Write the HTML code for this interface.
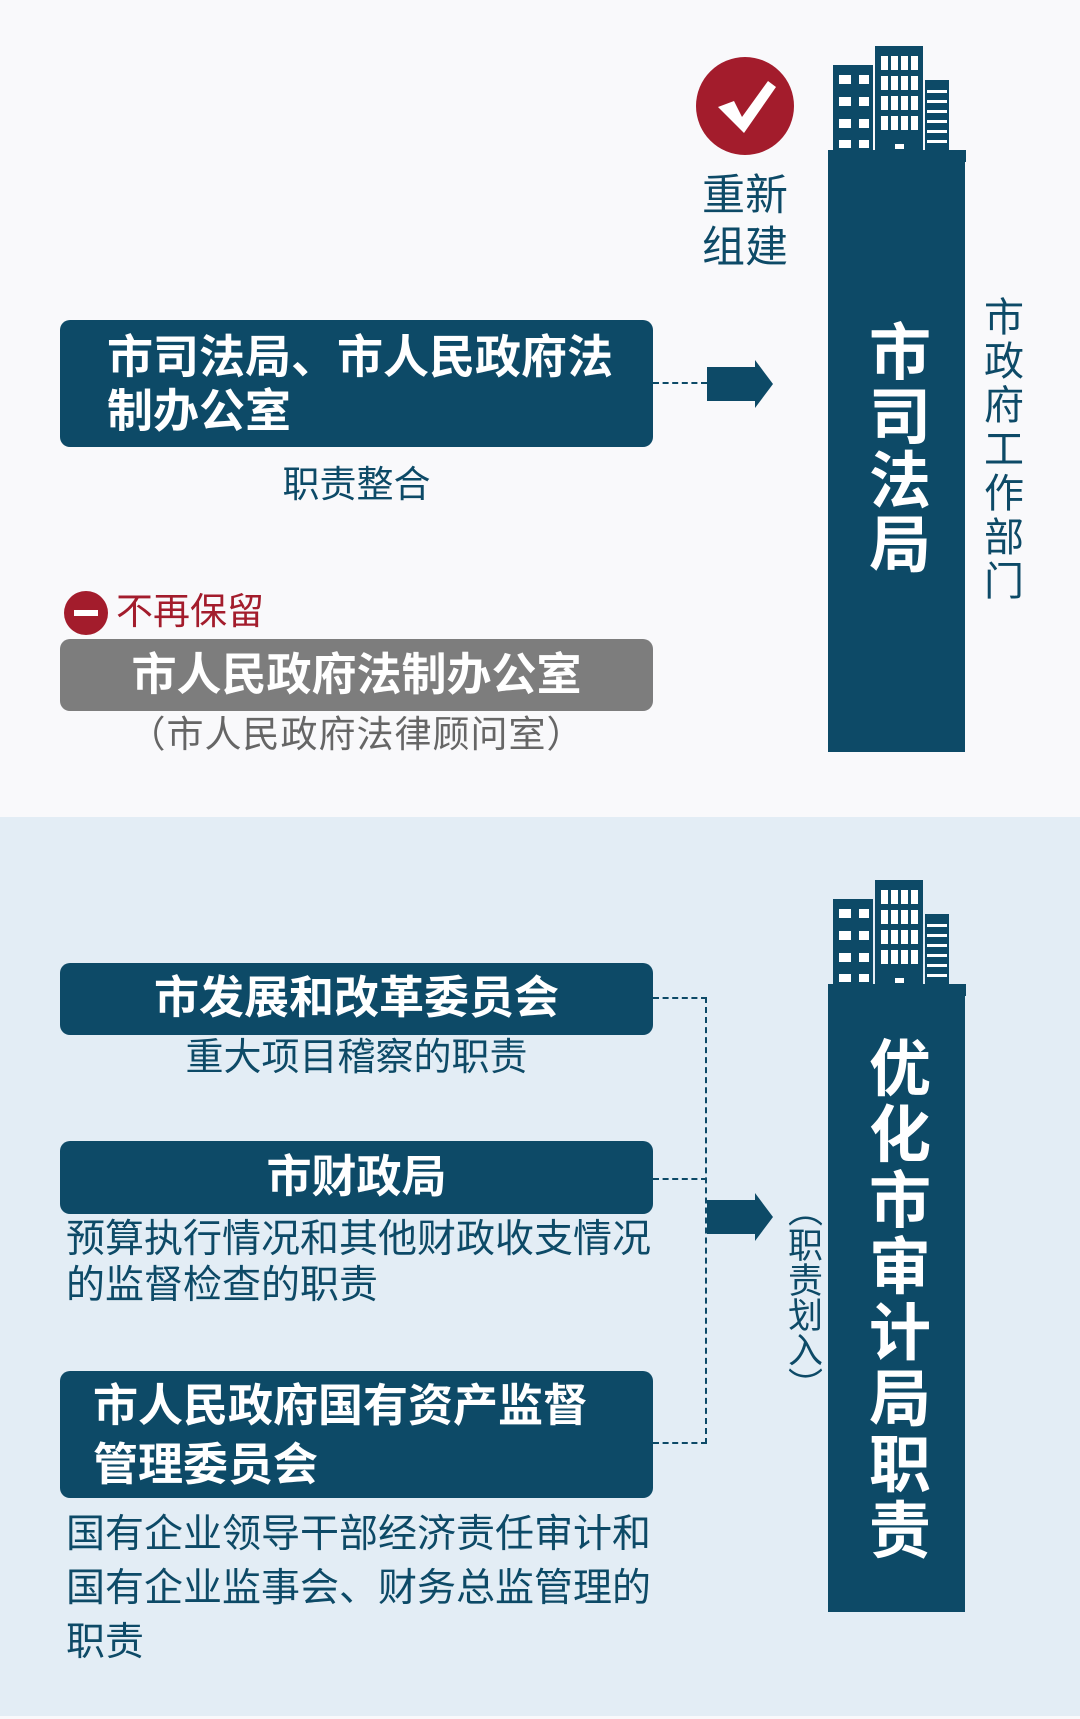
<!DOCTYPE html>
<html><head><meta charset="utf-8"><style>
*{margin:0;padding:0;box-sizing:border-box}
body{width:1080px;height:1719px;position:relative;overflow:hidden;background:#f9f9fb;font-family:"Liberation Sans","Noto Sans CJK SC",sans-serif}
.a{position:absolute}
.box{position:absolute;left:60px;width:593px;background:#0d4a67;border-radius:10px;color:#fff;font-weight:bold;font-size:45px}
.c{text-align:center;white-space:nowrap}
.t{color:#0d4a67;font-size:38px;white-space:nowrap}
.v{position:absolute;writing-mode:vertical-rl;text-orientation:upright;white-space:nowrap}
.dash{position:absolute;border-color:#0d4a67;border-style:dashed;border-width:0}
</style></head><body>
<div class="a" style="left:0;top:817px;width:1080px;height:899px;background:#e3edf5"></div>

<svg class="a" style="left:826px;top:44px" width="142" height="118" viewBox="0 0 142 118">
<g fill="#0d4a67">
<rect x="7" y="21" width="40" height="97"/><rect x="49" y="2" width="48" height="116"/><rect x="99" y="36" width="24" height="82"/><rect x="2" y="106" width="138" height="12"/>
</g>
<g fill="#fff">
<rect x="13" y="31" width="12" height="9"/><rect x="33" y="31" width="10" height="9"/>
<rect x="13" y="53" width="12" height="9"/><rect x="33" y="53" width="10" height="9"/>
<rect x="13" y="75" width="12" height="9"/><rect x="33" y="75" width="10" height="9"/>
<rect x="13" y="96" width="12" height="8"/><rect x="33" y="96" width="10" height="8"/>
<rect x="55" y="12" width="7" height="14"/><rect x="65" y="12" width="7" height="14"/><rect x="75" y="12" width="7" height="14"/><rect x="85" y="12" width="7" height="14"/>
<rect x="55" y="32" width="7" height="14"/><rect x="65" y="32" width="7" height="14"/><rect x="75" y="32" width="7" height="14"/><rect x="85" y="32" width="7" height="14"/>
<rect x="55" y="52" width="7" height="14"/><rect x="65" y="52" width="7" height="14"/><rect x="75" y="52" width="7" height="14"/><rect x="85" y="52" width="7" height="14"/>
<rect x="55" y="72" width="7" height="14"/><rect x="65" y="72" width="7" height="14"/><rect x="75" y="72" width="7" height="14"/><rect x="85" y="72" width="7" height="14"/>
<rect x="69" y="100" width="9" height="5"/>
<rect x="101" y="46" width="20" height="3"/><rect x="101" y="56" width="20" height="3"/><rect x="101" y="66" width="20" height="3"/><rect x="101" y="76" width="20" height="3"/><rect x="101" y="86" width="20" height="3"/><rect x="101" y="96" width="20" height="3"/>
</g></svg>
<div class="a" style="left:828px;top:159px;width:137px;height:593px;background:#0d4a67"></div>
<div class="v" style="left:857px;top:320px;color:#fff;font-weight:bold;font-size:62px;line-height:72px;letter-spacing:2px">市司法局</div>
<div class="v" style="left:978px;top:296px;color:#0d4a67;font-size:40px;line-height:44px;letter-spacing:4px">市政府工作部门</div>

<svg class="a" style="left:696px;top:57px" width="98" height="98" viewBox="0 0 98 98">
<circle cx="49" cy="49" r="49" fill="#a31c2c"/>
<path d="M22 50 L38 44 L46 60 L72 24 L80 30 L48 76 Z" fill="#fff"/>
</svg>
<div class="a c" style="left:695px;top:170px;width:100px;color:#0d4a67;font-size:43px;line-height:52px">重新<br>组建</div>

<div class="box" style="top:320px;height:127px;padding:10px 0 0 47px;line-height:54px;font-size:46px">市司法局、市人民政府法<br>制办公室</div>
<div class="a t c" style="left:60px;width:593px;top:454px;font-size:37px">职责整合</div>
<div class="dash" style="left:653px;top:382px;width:54px;border-top-width:2px"></div>
<svg class="a" style="left:705px;top:360px" width="70" height="50"><path d="M2 7 H50 V0 L68 24 L50 48 V41 H2 Z" fill="#0d4a67"/></svg>

<svg class="a" style="left:64px;top:591px" width="44" height="44"><circle cx="22" cy="22" r="22" fill="#a31c2c"/><rect x="10" y="19" width="24" height="6" fill="#fff"/></svg>
<div class="a" style="left:116px;top:590px;color:#a31c2c;font-size:37px;line-height:44px">不再保留</div>
<div class="box c" style="top:639px;height:72px;background:#7d7d7d;line-height:72px;font-size:45px">市人民政府法制办公室</div>
<div class="a c" style="left:60px;width:593px;top:713px;color:#666;font-size:37px;line-height:44px;letter-spacing:1px">（市人民政府法律顾问室）</div>

<svg class="a" style="left:826px;top:878px" width="142" height="118" viewBox="0 0 142 118">
<g fill="#0d4a67">
<rect x="7" y="21" width="40" height="97"/><rect x="49" y="2" width="48" height="116"/><rect x="99" y="36" width="24" height="82"/><rect x="2" y="106" width="138" height="12"/>
</g>
<g fill="#fff">
<rect x="13" y="31" width="12" height="9"/><rect x="33" y="31" width="10" height="9"/>
<rect x="13" y="53" width="12" height="9"/><rect x="33" y="53" width="10" height="9"/>
<rect x="13" y="75" width="12" height="9"/><rect x="33" y="75" width="10" height="9"/>
<rect x="13" y="96" width="12" height="8"/><rect x="33" y="96" width="10" height="8"/>
<rect x="55" y="12" width="7" height="14"/><rect x="65" y="12" width="7" height="14"/><rect x="75" y="12" width="7" height="14"/><rect x="85" y="12" width="7" height="14"/>
<rect x="55" y="32" width="7" height="14"/><rect x="65" y="32" width="7" height="14"/><rect x="75" y="32" width="7" height="14"/><rect x="85" y="32" width="7" height="14"/>
<rect x="55" y="52" width="7" height="14"/><rect x="65" y="52" width="7" height="14"/><rect x="75" y="52" width="7" height="14"/><rect x="85" y="52" width="7" height="14"/>
<rect x="55" y="72" width="7" height="14"/><rect x="65" y="72" width="7" height="14"/><rect x="75" y="72" width="7" height="14"/><rect x="85" y="72" width="7" height="14"/>
<rect x="69" y="100" width="9" height="5"/>
<rect x="101" y="46" width="20" height="3"/><rect x="101" y="56" width="20" height="3"/><rect x="101" y="66" width="20" height="3"/><rect x="101" y="76" width="20" height="3"/><rect x="101" y="86" width="20" height="3"/><rect x="101" y="96" width="20" height="3"/>
</g></svg>
<div class="a" style="left:828px;top:993px;width:137px;height:619px;background:#0d4a67"></div>
<div class="v" style="left:857px;top:1036px;color:#fff;font-weight:bold;font-size:62px;line-height:72px;letter-spacing:4px">优化市审计局职责</div>
<div class="v" style="left:782px;top:1192px;color:#0d4a67;font-size:35px;line-height:40px;text-orientation:mixed">（<span style="text-orientation:upright">职责划入</span>）</div>

<div class="box c" style="top:963px;height:72px;line-height:70px">市发展和改革委员会</div>
<div class="a t c" style="left:60px;width:593px;top:1036px;line-height:44px">重大项目稽察的职责</div>
<div class="box c" style="top:1141px;height:73px;line-height:72px">市财政局</div>
<div class="a t" style="left:66px;top:1217px;font-size:39px;line-height:46px">预算执行情况和其他财政收支情况<br>的监督检查的职责</div>
<div class="box" style="top:1371px;height:127px;padding:5px 0 0 33px;line-height:59px">市人民政府国有资产监督<br>管理委员会</div>
<div class="a t" style="left:66px;top:1508px;font-size:39px;line-height:54px">国有企业领导干部经济责任审计和<br>国有企业监事会、财务总监管理的<br>职责</div>

<div class="dash" style="left:653px;top:997px;width:54px;border-top-width:2px"></div>
<div class="dash" style="left:653px;top:1178px;width:54px;border-top-width:2px"></div>
<div class="dash" style="left:653px;top:1442px;width:54px;border-top-width:2px"></div>
<div class="dash" style="left:705px;top:997px;height:447px;border-left-width:2px"></div>
<svg class="a" style="left:705px;top:1193px" width="70" height="50"><path d="M2 7 H50 V0 L68 24 L50 48 V41 H2 Z" fill="#0d4a67"/></svg>
</body></html>
